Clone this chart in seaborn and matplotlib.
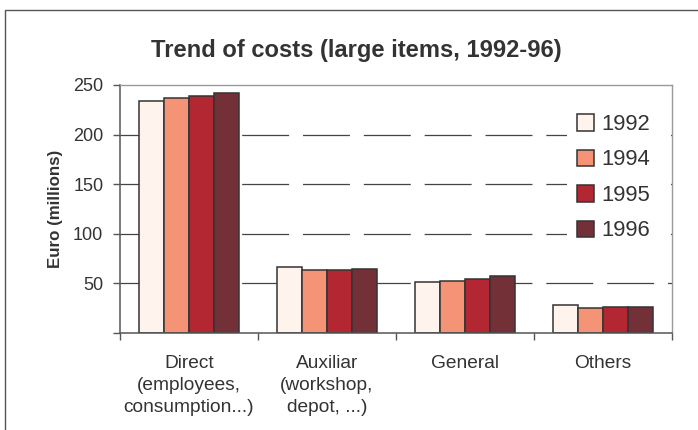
import matplotlib
matplotlib.use("Agg")
import matplotlib.pyplot as plt
import seaborn as sns
import pandas as pd
from matplotlib.patches import Rectangle

categories = ["Direct\n(employees,\nconsumption...)", "Auxiliar\n(workshop,\ndepot, ...)", "General", "Others"]
years = ["1992", "1994", "1995", "1996"]
v1992 = [234, 66.5, 51.5, 28.5]
v1994 = [237, 63.5, 52.7, 25.5]
v1995 = [239, 63.5, 54.0, 26.5]
v1996 = [241.5, 64.5, 57.5, 26.5]
yticks = [0, 50, 100, 150, 200, 250]
ytick_labels = ["", "50", "100", "150", "200", "250"]
grid_vals = [50, 100, 150, 200]
colors = ["#FFF3EE", "#F49376", "#B22731", "#733036"]

rows = []
for yr, vals in zip(years, [v1992, v1994, v1995, v1996]):
    for c, v in zip(categories, vals):
        rows.append({"cat": c, "year": yr, "value": v})
df = pd.DataFrame(rows)

sns.set_style("white")
plt.rcParams['font.family'] = ['Liberation Sans', 'DejaVu Sans']
plt.rcParams['lines.scale_dashes'] = False
txt = "#333333"

fig = plt.figure(figsize=(6.98, 4.30), dpi=100)
ax = fig.add_axes([120/698, 1-333/430, (672-120)/698, (333-85)/430])

for g in grid_vals:
    ax.axhline(g, color="#444444", lw=0.9, ls=(0, (33.8, 10)), zorder=0)

sns.barplot(data=df, x="cat", y="value", hue="year", palette=colors, saturation=1,
            width=0.73, edgecolor="#333333", linewidth=1.1, ax=ax, legend=False,
            zorder=2)

ax.set_ylim(0, 250)
ax.set_xlim(-0.5, len(categories) - 0.5)
ax.set_yticks(yticks)
ax.set_yticklabels(ytick_labels)
ax.set_xticks(range(len(categories)))
ax.set_xticklabels(categories, linespacing=1.38)
ax.set_xticks([i - 0.5 for i in range(len(categories) + 1)], minor=True)
ax.tick_params(axis="x", which="major", length=0, pad=16, labelsize=13.8, labelcolor=txt)
ax.tick_params(axis="x", which="minor", length=5, width=1, color="#555555", direction="out", bottom=True)
ax.tick_params(axis="y", length=5, width=1, color="#555555", direction="out", left=True,
               pad=7, labelsize=13, labelcolor=txt)

for s in ["left", "bottom"]:
    ax.spines[s].set_color("#555555")
    ax.spines[s].set_linewidth(1.1)
for s in ["top", "right"]:
    ax.spines[s].set_color("#9a9a9a")
    ax.spines[s].set_linewidth(1.0)

ax.set_xlabel("")
ax.set_ylabel("Euro (millions)", fontsize=12.2, fontweight="bold", color=txt)
ax.yaxis.set_label_coords(-0.103, 0.5)

fig.text(356/698, 1-51/430, "Trend of costs (large items, 1992-96)", ha="center", va="center",
         fontsize=17.1, fontweight="bold", color=txt)

# white area behind the legend (covers grid lines, like the original)
fig.patches.append(Rectangle((567/698, 1-246/430), (670.5-567)/698, (246-102)/430,
                             transform=fig.transFigure, facecolor="white", edgecolor="none",
                             zorder=1))

handles = [Rectangle((0, 0), 1, 1, facecolor=c, edgecolor="#333333", lw=1.1) for c in colors]
leg = fig.legend(handles, years, loc="upper left", bbox_to_anchor=(577/698, 1-114/430),
                 frameon=False, fontsize=15.8, handlelength=0.78, handleheight=0.78,
                 handletextpad=0.35, labelspacing=0.66, borderpad=0, borderaxespad=0)
leg.set_zorder(5)
for t in leg.get_texts():
    t.set_color(txt)

fig.patches.append(Rectangle((5/698, -0.1), 2, 1 - 10/430 + 0.1, transform=fig.transFigure,
                             fill=False, edgecolor="#555555", lw=1.0))

fig.savefig("out.png", dpi=100)
